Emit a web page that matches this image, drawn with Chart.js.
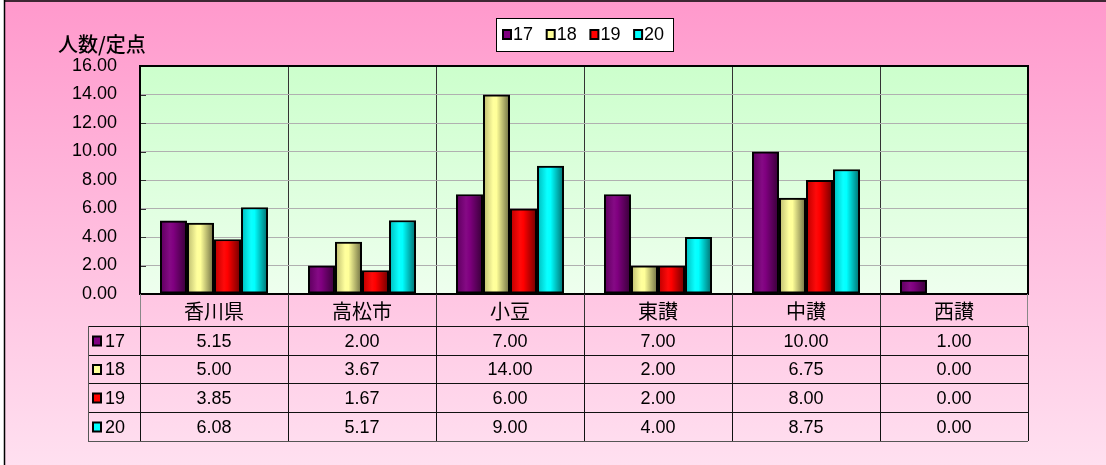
<!DOCTYPE html>
<html><head><meta charset="utf-8">
<script src="https://cdn.jsdelivr.net/npm/chart.js@4"></script>
<style>html,body{margin:0;padding:0;background:#fff}#wrap{width:1106px;height:465px}</style>
</head><body><div id="wrap"><canvas id="c" width="1106" height="465"></canvas></div>
<script>
const categories = ['香川県', '高松市', '小豆', '東讃', '中讃', '西讃'];
const seriesNames = ['17', '18', '19', '20'];
const values17 = [5.15, 2.00, 7.00, 7.00, 10.00, 1.00];
const values18 = [5.00, 3.67, 14.00, 2.00, 6.75, 0.00];
const values19 = [3.85, 1.67, 6.00, 2.00, 8.00, 0.00];
const values20 = [6.08, 5.17, 9.00, 4.00, 8.75, 0.00];
const yTitle = '人数/定点';
const yMin = 0, yMax = 16, yStep = 2;

const seriesValues = [values17, values18, values19, values20];
const seriesColors = ['#800080', '#FFFF99', '#FF0000', '#00FFFF'];
const JP = '"Noto Sans CJK JP", sans-serif';
const NUM = '"Liberation Sans", Arial, sans-serif';

function shade(hex, f) {
  const n = parseInt(hex.slice(1), 16);
  let r = (n >> 16) & 255, g = (n >> 8) & 255, b = n & 255;
  if (f <= 1) { r *= f; g *= f; b *= f; }
  else { const t = f - 1; r += (255 - r) * t; g += (255 - g) * t; b += (255 - b) * t; }
  return 'rgb(' + Math.round(r) + ',' + Math.round(g) + ',' + Math.round(b) + ')';
}

const decorPlugin = {
  id: 'decor',
  beforeDraw(chart) {
    const ctx = chart.ctx, W = chart.width, H = chart.height, a = chart.chartArea;
    ctx.save();
    ctx.fillStyle = '#fff'; ctx.fillRect(0, 0, W, H);
    const g = ctx.createLinearGradient(0, 0, 0, H);
    g.addColorStop(0, '#FF99CC'); g.addColorStop(1, '#FFE0F0');
    ctx.fillStyle = g; ctx.fillRect(4, 0, W - 4, H);
    ctx.strokeStyle = '#000';
    ctx.beginPath(); ctx.moveTo(4, 1); ctx.lineTo(W, 1); ctx.moveTo(4.5, 0); ctx.lineTo(4.5, H); ctx.lineWidth = 1.5; ctx.stroke();
    const pg = ctx.createLinearGradient(0, a.top, 0, a.bottom);
    pg.addColorStop(0, '#CCFFCC'); pg.addColorStop(1, '#EEFFEE');
    ctx.fillStyle = pg; ctx.fillRect(a.left, a.top, a.right - a.left, a.bottom - a.top);
    ctx.restore();
  },
  afterDatasetsDraw(chart) {
    const ctx = chart.ctx;
    ctx.save();
    chart.data.datasets.forEach((ds, di) => {
      const meta = chart.getDatasetMeta(di);
      const base = seriesColors[di];
      meta.data.forEach((el, i) => {
        if (!ds.data[i]) return;
        const x0 = el.x - el.width / 2 + 2, x1 = el.x + el.width / 2 - 2;
        const y0 = Math.min(el.y, el.base) + 2, y1 = Math.max(el.y, el.base) - 2;
        if (y1 <= y0) return;
        const gr = ctx.createLinearGradient(x0, 0, x1, 0);
        gr.addColorStop(0, shade(base, 0.78));
        gr.addColorStop(0.35, shade(base, 1.04));
        gr.addColorStop(0.5, shade(base, 1.0));
        gr.addColorStop(1, shade(base, 0.5));
        ctx.fillStyle = gr;
        ctx.fillRect(x0, y0, x1 - x0, y1 - y0);
      });
    });
    ctx.restore();
  },
  afterDraw(chart) {
    const ctx = chart.ctx, a = chart.chartArea, xs = chart.scales.x, ys = chart.scales.y;
    ctx.save();
    ctx.strokeStyle = '#333'; ctx.lineWidth = 1;
    for (let v = yMin; v <= yMax; v += yStep) {
      const y = Math.round(ys.getPixelForValue(v)) + 0.5;
      ctx.beginPath(); ctx.moveTo(a.left, y); ctx.lineTo(a.left + 6, y); ctx.stroke();
    }
    ctx.strokeStyle = '#000'; ctx.lineWidth = 2;
    ctx.strokeRect(a.left, a.top, a.right - a.left, a.bottom - a.top);
    ctx.fillStyle = '#000'; ctx.font = '500 20px ' + JP; ctx.textAlign = 'left'; ctx.textBaseline = 'middle';
    ctx.fillText(yTitle, 58, 44);
    ctx.fillStyle = '#fff'; ctx.fillRect(496.5, 18.5, 177, 33);
    ctx.strokeStyle = '#000'; ctx.lineWidth = 1; ctx.strokeRect(496.5, 18.5, 177, 33);
    ctx.font = '18px ' + NUM; ctx.textBaseline = 'middle';
    seriesNames.forEach((n, i) => {
      const sx = 503 + i * 43.7;
      ctx.fillStyle = seriesColors[i]; ctx.fillRect(sx, 30, 8, 9);
      ctx.strokeStyle = '#000'; ctx.lineWidth = 2; ctx.strokeRect(sx, 30, 8, 9);
      ctx.fillStyle = '#000'; ctx.fillText(n, sx + 10, 35.5);
    });
    const half = (xs.getPixelForValue(1) - xs.getPixelForValue(0)) / 2;
    const headTop = a.bottom, rows = [326, 355, 383, 412, 441], leftCol = 88;
    ctx.lineWidth = 1;
    ctx.strokeStyle = '#888';
    ctx.beginPath(); ctx.moveTo(a.left + 0.5, headTop); ctx.lineTo(a.left + 0.5, rows[0]);
    ctx.moveTo(a.right - 0.5, headTop); ctx.lineTo(a.right - 0.5, rows[0]); ctx.stroke();
    ctx.strokeStyle = '#333';
    ctx.beginPath();
    for (let i = 1; i < categories.length; i++) {
      const x = Math.round(xs.getPixelForValue(i) - half) + 0.5;
      ctx.moveTo(x, headTop); ctx.lineTo(x, rows[0]);
    }
    ctx.stroke();
    ctx.strokeStyle = '#111';
    ctx.beginPath();
    for (let r = 0; r < rows.length - 1; r++) {
      ctx.moveTo(leftCol, rows[r] + 0.5); ctx.lineTo(a.right, rows[r] + 0.5);
    }
    for (let i = 0; i <= categories.length; i++) {
      const x = Math.round(xs.getPixelForValue(i) - half) + 0.5;
      ctx.moveTo(x, rows[0]); ctx.lineTo(x, rows[rows.length - 1]);
    }
    ctx.stroke();
    ctx.strokeStyle = '#555';
    ctx.beginPath();
    ctx.moveTo(leftCol + 0.5, rows[0]); ctx.lineTo(leftCol + 0.5, rows[rows.length - 1]);
    ctx.moveTo(leftCol, rows[rows.length - 1] + 0.5); ctx.lineTo(a.right, rows[rows.length - 1] + 0.5);
    ctx.stroke();
    ctx.fillStyle = '#000'; ctx.textAlign = 'center'; ctx.textBaseline = 'middle';
    ctx.font = '20px ' + JP;
    categories.forEach((c, i) => ctx.fillText(c, xs.getPixelForValue(i), (headTop + rows[0]) / 2 + 1));
    ctx.font = '18px ' + NUM;
    seriesValues.forEach((vals, r) => {
      const ym = (rows[r] + rows[r + 1]) / 2 + 1.5;
      vals.forEach((v, i) => ctx.fillText(v.toFixed(2), xs.getPixelForValue(i), ym));
      const sx = 93;
      ctx.fillStyle = seriesColors[r]; ctx.fillRect(sx, ym - 5.5, 8, 9);
      ctx.strokeStyle = '#000'; ctx.lineWidth = 2; ctx.strokeRect(sx, ym - 5.5, 8, 9);
      ctx.fillStyle = '#000'; ctx.textAlign = 'left';
      ctx.fillText(seriesNames[r], 105, ym);
      ctx.textAlign = 'center';
    });
    ctx.restore();
  }
};

new Chart(document.getElementById('c'), {
  type: 'bar',
  data: {
    labels: categories,
    datasets: seriesNames.map((n, i) => ({
      label: n,
      data: seriesValues[i],
      backgroundColor: seriesColors[i],
      borderColor: '#000',
      borderWidth: ctx => (ctx.raw === 0 ? 0 : 2.5),
      borderSkipped: false,
      categoryPercentage: 0.73,
      barPercentage: 1.0
    }))
  },
  options: {
    responsive: false,
    animation: false,
    devicePixelRatio: 1,
    layout: { padding: { left: 0, top: 66, right: 78, bottom: 0 } },
    plugins: { legend: { display: false }, tooltip: { enabled: false } },
    scales: {
      x: {
        grid: { offset: true, color: '#333', drawTicks: false, lineWidth: 1 },
        border: { display: false },
        ticks: { display: false },
        afterFit: s => { s.height = 171; }
      },
      y: {
        min: yMin, max: yMax,
        grid: { color: '#B0B0B0', drawTicks: false, lineWidth: 1 },
        border: { display: false },
        ticks: { stepSize: yStep, padding: 23, color: '#000', font: { family: NUM, size: 18 },
          callback: v => Number(v).toFixed(2) },
        afterFit: s => { s.width = 140; }
      }
    }
  },
  plugins: [decorPlugin]
});
</script></body></html>
